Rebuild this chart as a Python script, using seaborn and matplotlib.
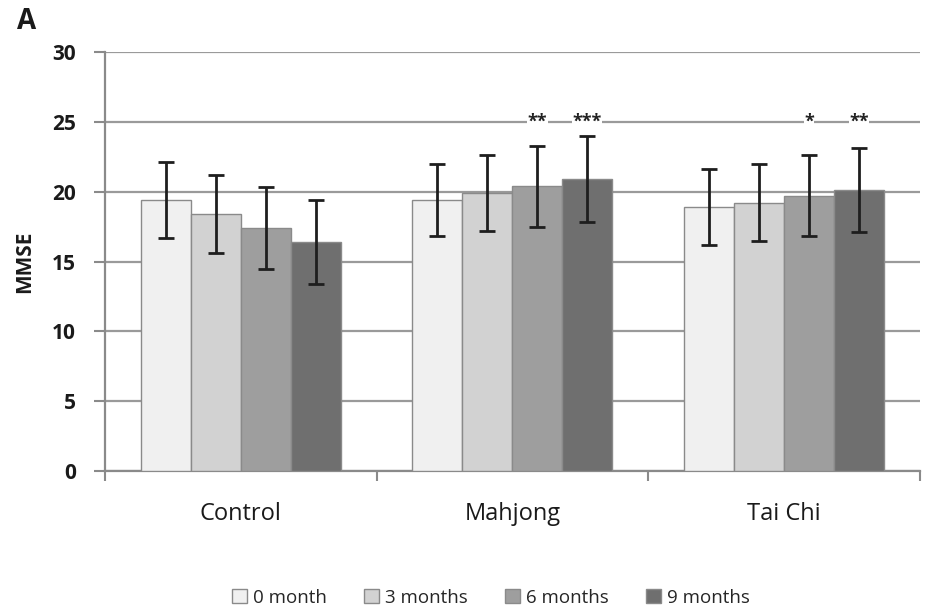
import matplotlib
matplotlib.use("Agg")
import matplotlib.pyplot as plt
import seaborn as sns
import pandas as pd
import numpy as np
from matplotlib.patches import Patch

# MMSE scores by group and time point
groups = ["Control", "Mahjong", "Tai Chi"]
timepoints = ["0 month", "3 months", "6 months", "9 months"]
control_mean = [19.4, 18.4, 17.4, 16.4]
mahjong_mean = [19.4, 19.9, 20.4, 20.9]
taichi_mean = [18.9, 19.2, 19.7, 20.1]
control_sd = [2.7, 2.8, 2.95, 3.0]
mahjong_sd = [2.6, 2.7, 2.9, 3.1]
taichi_sd = [2.7, 2.75, 2.9, 3.0]
control_sig = ["", "", "", ""]
mahjong_sig = ["", "", "**", "***"]
taichi_sig = ["", "", "*", "**"]
sig_y = 25

means = [control_mean, mahjong_mean, taichi_mean]
sds = [control_sd, mahjong_sd, taichi_sd]
sigs = [control_sig, mahjong_sig, taichi_sig]

rows = []
for g, m, s, st in zip(groups, means, sds, sigs):
    for t, mv, sv, stv in zip(timepoints, m, s, st):
        rows.append({"group": g, "time": t, "mmse": mv, "sd": sv, "sig": stv})
df = pd.DataFrame(rows)

colors = ["#f0f0f0", "#d2d2d2", "#9e9e9e", "#6f6f6f"]
ink = "#1a1a1a"

sns.set_theme(style="white")
plt.rcParams["font.family"] = ["Open Sans", "DejaVu Sans"]

fig = plt.figure(figsize=(9.26, 6.13), dpi=100)
ax = fig.add_axes([0.1134, 0.2316, 0.880, 0.6836])

sns.barplot(data=df, x="group", y="mmse", hue="time", order=groups,
            hue_order=timepoints, palette=colors, errorbar=None,
            width=0.736, gap=0, edgecolor="#8a8a8a", linewidth=1.0,
            legend=False, ax=ax, zorder=3)

# error bars and significance marks, positioned from the drawn bars
bars = ax.patches
for i, t in enumerate(timepoints):
    for j, g in enumerate(groups):
        p = bars[i * len(groups) + j]
        x = p.get_x() + p.get_width() / 2
        rec = df[(df.group == g) & (df.time == t)].iloc[0]
        ax.errorbar(x, rec.mmse, yerr=rec.sd, fmt="none", ecolor="#1e1e1e",
                    elinewidth=2, capsize=6, capthick=2, zorder=4)
        if rec.sig:
            ax.text(x, sig_y, rec.sig, ha="center", va="center",
                    fontsize=13, fontweight="bold", color="#222222",
                    zorder=5, bbox=dict(facecolor="white", edgecolor="none", pad=0.3))

ax.set_ylim(0, 30)
ax.set_xlim(-0.5, 2.5)
ax.set_yticks(np.arange(0, 31, 5))
ax.yaxis.grid(True, color="#9a9a9a", linewidth=1.6, zorder=0)
ax.set_axisbelow(True)
for side in ["top", "right"]:
    ax.spines[side].set_visible(False)
ax.spines["left"].set_color("#8a8a8a")
ax.spines["left"].set_linewidth(1.6)
ax.spines["bottom"].set_color("#8a8a8a")
ax.spines["bottom"].set_linewidth(1.6)

ax.tick_params(axis="y", which="major", left=True, length=8, width=1.5,
               color="#8a8a8a", labelsize=15, pad=13, labelcolor=ink)
for lab in ax.get_yticklabels():
    lab.set_fontweight("bold")
ax.set_xticks([-0.5, 0.5, 1.5, 2.5], minor=True)
ax.tick_params(axis="x", which="minor", bottom=True, length=7, width=1.5,
               color="#8a8a8a")
ax.tick_params(axis="x", which="major", bottom=False, labelsize=17, pad=16,
               labelcolor=ink)

ax.set_xlabel("")
ax.set_ylabel("MMSE", fontsize=15, fontweight="bold", labelpad=12, color=ink)

fig.text(0.018, 0.965, "A", fontsize=20, fontweight="bold", ha="left", va="center",
         color=ink)

handles = [Patch(facecolor=c, edgecolor="#8a8a8a", linewidth=1.0) for c in colors]
fig.legend(handles, timepoints, loc="center", bbox_to_anchor=(0.53, 0.025),
           ncol=4, frameon=False, fontsize=13.5, handlelength=0.8, handleheight=0.8,
           handletextpad=0.3, columnspacing=2.0)

fig.savefig("out.png", dpi=100, facecolor="white")
